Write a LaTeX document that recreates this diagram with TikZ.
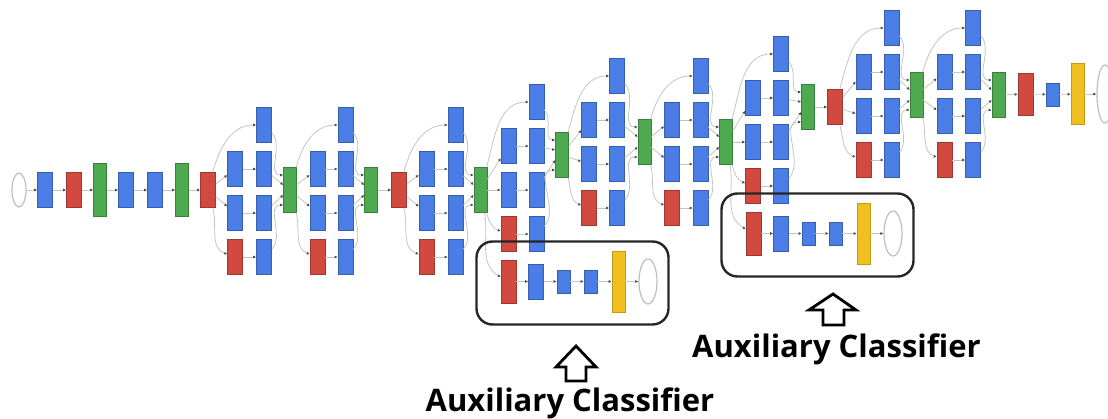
\documentclass[tikz,border=0pt]{standalone}
\usepackage{fontspec}
\setmainfont{Open Sans}
\usetikzlibrary{arrows.meta,shapes.geometric}
\definecolor{convblue}{HTML}{4A7DE6}
\definecolor{poolred}{HTML}{D24A3F}
\definecolor{catgreen}{HTML}{4DAA50}
\definecolor{softyellow}{HTML}{F0C020}
\definecolor{linkgray}{HTML}{C4C4C4}
\tikzset{
  layer/.style={draw, line width=0.6pt, inner sep=0pt, minimum width=15pt, minimum height=35pt},
  conv/.style={layer, fill=convblue, draw=convblue!75!black},
  pool/.style={layer, fill=poolred, draw=poolred!75!black},
  concat/.style={layer, fill=catgreen, draw=catgreen!75!black, minimum width=13pt, minimum height=45pt},
  lrn/.style={concat, minimum height=53pt},
  fc/.style={conv, minimum width=13pt, minimum height=23pt},
  soft/.style={layer, fill=softyellow, draw=softyellow!80!black, minimum width=13pt, minimum height=61pt},
  io/.style={ellipse, draw=black!25, line width=1.2pt, fill=white, inner sep=0pt, minimum width=14pt, minimum height=34pt},
  link/.style={linkgray, line width=0.8pt, -{Latex[length=3pt,width=3pt,color=black!70]}},
  auxbox/.style={draw=black!85, line width=2.4pt, rounded corners=16pt},
  hollow/.style={draw, line width=2.8pt, line join=miter},
  auxlabel/.style={font=\bfseries\fontsize{31}{31}\selectfont, inner sep=0pt, anchor=base}
}
\begin{document}
\begin{tikzpicture}[x=1pt,y=-1pt]
  \useasboundingbox (0,0) rectangle (1108,419);
  % stem
  \node[io] (in) at (19,190) {};
  \node[conv] (conv1) at (45,190) {};
  \node[pool] (pool1) at (74,190) {};
  \node[lrn] (lrn1) at (100,190) {};
  \node[conv] (conv2a) at (126,190) {};
  \node[conv] (conv2b) at (155,190) {};
  \node[lrn] (lrn2) at (182,190) {};
  \node[pool] (pool2) at (208,190) {};
  \node[pool] (pool3) at (399,190) {};
  \node[pool] (pool4) at (835,107) {};
  \foreach \a/\b in {in/conv1,conv1/pool1,pool1/lrn1,lrn1/conv2a,conv2a/conv2b,conv2b/lrn2,lrn2/pool2}
    \draw[link] (\a) -- (\b);
  % inception modules
  \foreach \m/\prev/\xa/\xb/\xc/\yr/\yc in {3a/pool2/235/264/290/169/190, 3b/m3a/317.5/345.5/371/169/190,
      4a/pool3/426.5/455.5/480.5/169/190, 4b/m4a/508.5/536.5/562/146/155, 4c/m4b/589/617/644.5/120/142,
      4d/m4c/672/700.5/726/120/142, 4e/m4d/753/781/808/98/107, 5a/pool4/863.5/891.5/916.5/72/95,
      5b/m5a/944.5/973/998.5/72/95} {
    \node[conv] (m\m-top) at (\xb,\yr-44) {};
    \node[conv] (m\m-a) at (\xa,\yr) {};
    \node[conv] (m\m-A) at (\xb,\yr) {};
    \node[conv] (m\m-b) at (\xa,\yr+44) {};
    \node[conv] (m\m-B) at (\xb,\yr+44) {};
    \node[pool] (m\m-c) at (\xa,\yr+88) {};
    \node[conv] (m\m-C) at (\xb,\yr+88) {};
    \node[concat] (m\m) at (\xc,\yc) {};
    \draw[link] (\prev) to[out=75,in=180] (m\m-top);
    \draw[link] (\prev) -- (m\m-a);
    \draw[link] (\prev) -- (m\m-b);
    \draw[link] (\prev) to[out=-75,in=160] (m\m-c);
    \draw[link] (m\m-a) -- (m\m-A);
    \draw[link] (m\m-b) -- (m\m-B);
    \draw[link] (m\m-c) -- (m\m-C);
    \draw[link] (m\m-top) to[out=-45,in=180] ([yshift=15pt]m\m.west);
    \draw[link] (m\m-A) -- ([yshift=5pt]m\m.west);
    \draw[link] (m\m-B) -- ([yshift=-5pt]m\m.west);
    \draw[link] (m\m-C) to[out=45,in=180] ([yshift=-15pt]m\m.west);
  }
  \draw[link] (m3b) -- (pool3);
  \draw[link] (m4e) -- (pool4);
  % auxiliary classifiers
  \foreach \k/\src/\x/\y in {1/m4a/508.5/281.5, 2/m4d/753.5/233.5} {
    \node[pool, minimum height=43pt] (ax\k-pool) at (\x,\y) {};
    \node[conv] (ax\k-conv) at (\x+27.5,\y) {};
    \node[fc] (ax\k-fc1) at (\x+55,\y) {};
    \node[fc] (ax\k-fc2) at (\x+82,\y) {};
    \node[soft] (ax\k-soft) at (\x+110,\y) {};
    \node[io, minimum width=18pt, minimum height=45pt] (ax\k-out) at (\x+139.5,\y) {};
    \draw[link] (\src) to[out=-80,in=150] (ax\k-pool);
    \draw[link] (ax\k-pool) -- (ax\k-conv);
    \draw[link] (ax\k-conv) -- (ax\k-fc1);
    \draw[link] (ax\k-fc1) -- (ax\k-fc2);
    \draw[link] (ax\k-fc2) -- (ax\k-soft);
    \draw[link] (ax\k-soft) -- (ax\k-out);
    \draw[auxbox] (\x-32,\y-40) rectangle (\x+160,\y+43);
  }
  % output
  \node[pool, minimum height=42pt] (avgpool) at (1025.5,94) {};
  \node[fc] (fc) at (1052.5,94.5) {};
  \node[soft] (softmax) at (1077.5,94) {};
  \node[io, minimum width=16pt, minimum height=58pt] (out) at (1105,94) {};
  \draw[link] (m5b) -- (avgpool);
  \draw[link] (avgpool) -- (fc);
  \draw[link] (fc) -- (softmax);
  \draw[link] (softmax) -- (out);
  % labels
  \node[auxlabel] (lbl1) at (570,411) {Auxiliary Classifier};
  \node[auxlabel] (lbl2) at (836.5,358) {Auxiliary Classifier};
  \draw[hollow] (576,346) -- (596,367) -- (586,367) -- (586,381) -- (566,381) -- (566,367) -- (556,367) -- cycle;
  \draw[hollow] (833,294) -- (856,310) -- (844,310) -- (844,325) -- (823,325) -- (823,310) -- (809,310) -- cycle;
\end{tikzpicture}
\end{document}
